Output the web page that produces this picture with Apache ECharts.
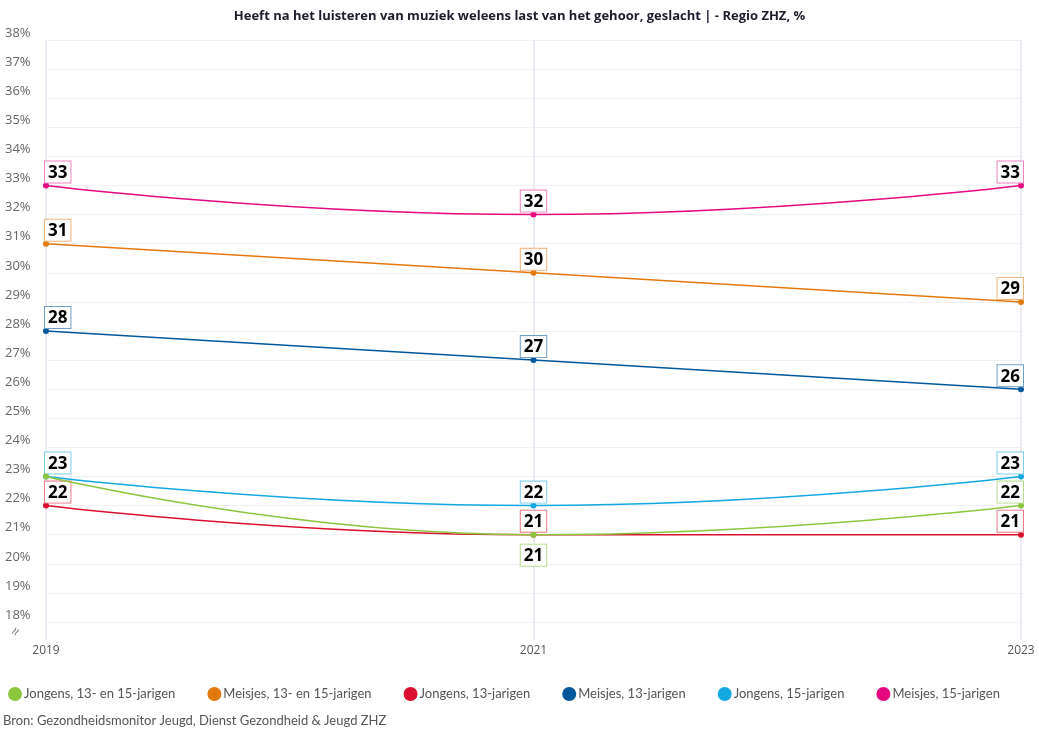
<!DOCTYPE html>
<html>
<head>
<meta charset="utf-8">
<script src="https://cdn.jsdelivr.net/npm/echarts@6/dist/echarts.min.js"></script>
<style>html,body{margin:0;padding:0;background:#fff}#c{width:1039px;height:730px}</style>
</head>
<body>
<div id="c"></div>
<script>
const titleText = 'Heeft na het luisteren van muziek weleens last van het gehoor, geslacht | - Regio ZHZ, %';
const sourceText = 'Bron: Gezondheidsmonitor Jeugd, Dienst Gezondheid & Jeugd ZHZ';
const categories = ['2019', '2021', '2023'];
const seriesNames = ['Jongens, 13- en 15-jarigen', 'Meisjes, 13- en 15-jarigen', 'Jongens, 13-jarigen', 'Meisjes, 13-jarigen', 'Jongens, 15-jarigen', 'Meisjes, 15-jarigen'];
const jongens1315 = [23, 21, 22];
const meisjes1315 = [31, 30, 29];
const jongens13 = [22, 21, 21];
const meisjes13 = [28, 27, 26];
const jongens15 = [23, 22, 23];
const meisjes15 = [33, 32, 33];
const colors = ['#8cc63f', '#e2790f', '#d9102f', '#00579b', '#13a8e0', '#e5097f'];
const borderColors = ['#b9dc8f', '#eeb27a', '#e8798b', '#6f9fc6', '#7fcbea', '#f084bf'];
const values = [jongens1315, meisjes1315, jongens13, meisjes13, jongens15, meisjes15];
const labelPos = [
  ['hide', 'bottom', 'top'],
  ['top', 'top', 'top'],
  ['top', 'top', 'top'],
  ['top', 'top', 'top'],
  ['top', 'top', 'top'],
  ['top', 'top', 'top']
];
const aligns = ['left', 'center', 'right'];

const chart = echarts.init(document.getElementById('c'));
const series = values.map((vals, si) => ({
  name: seriesNames[si],
  type: 'line',
  smooth: true,
  symbol: 'circle',
  symbolSize: 6,
  z: si === 0 ? 10 : 2,
  lineStyle: { width: 1.5, color: colors[si] },
  itemStyle: { color: colors[si] },
  data: vals.map((v, i) => {
    const p = labelPos[si][i];
    return {
      value: v,
      label: {
        show: p !== 'hide',
        position: p === 'bottom' ? 'bottom' : 'top',
        distance: p === 'bottom' ? 7 : 0,
        align: aligns[i],
        offset: i === 0 ? [-1, 0] : (i === 2 ? [2, 0] : [0, 0])
      }
    };
  }),
  label: {
    show: true,
    formatter: '{c}',
    color: '#000',
    fontSize: 17,
    fontWeight: 'bold',
    fontFamily: 'Open Sans, sans-serif',
    backgroundColor: '#fff',
    borderColor: borderColors[si],
    borderWidth: 1,
    padding: [2, 3, 0, 3],
    lineHeight: 19
  }
}));

chart.setOption({
  animation: false,
  color: colors,
  title: {
    text: titleText,
    left: 'center',
    top: 5,
    textStyle: { fontSize: 13, fontWeight: 'bold', color: '#1c1c2b', fontFamily: 'Open Sans, sans-serif' }
  },
  grid: { left: 46, right: 18, top: 40, bottom: 108, containLabel: false },
  xAxis: {
    type: 'category',
    data: categories,
    boundaryGap: false,
    axisLine: { show: false },
    axisTick: { show: false },
    axisLabel: { color: '#555', fontSize: 12, fontFamily: 'Open Sans, sans-serif', margin: 23 },
    splitLine: { show: true, lineStyle: { color: '#e9ecf3', width: 2 } }
  },
  yAxis: {
    type: 'value',
    min: 18,
    max: 38,
    interval: 1,
    axisLine: { show: false },
    axisTick: { show: false },
    axisLabel: {
      formatter: '{value}%', color: '#666', fontSize: 13, fontFamily: 'Open Sans, sans-serif',
      align: 'left', margin: 41, verticalAlign: 'bottom', lineHeight: 14
    },
    splitLine: { show: true, lineStyle: { color: '#f0f1f5', width: 1 } }
  },
  legend: {
    top: 682,
    left: 3,
    icon: 'circle',
    itemWidth: 14,
    itemHeight: 14,
    itemGap: 32,
    textStyle: { color: '#555', fontSize: 13, fontFamily: 'Lato, sans-serif', padding: [0, 0, 0, -3] },
    data: seriesNames
  },
  graphic: [
    {
      type: 'text', left: 3, top: 714,
      style: { text: sourceText, fill: '#555', fontSize: 13, fontFamily: 'Lato, sans-serif' }
    },
    { type: 'line', shape: { x1: 46, y1: 622, x2: 46, y2: 640 }, style: { stroke: '#e9ecf3', lineWidth: 2 } },
    { type: 'line', shape: { x1: 534, y1: 622, x2: 534, y2: 640 }, style: { stroke: '#e9ecf3', lineWidth: 2 } },
    { type: 'line', shape: { x1: 1021, y1: 622, x2: 1021, y2: 640 }, style: { stroke: '#e9ecf3', lineWidth: 2 } },
    {
      type: 'text', x: 16, y: 632, rotation: Math.PI / 3,
      style: { text: '≈', fill: '#777', fontSize: 14, align: 'center', verticalAlign: 'middle' }
    }
  ],
  series: series
});
</script>
</body>
</html>
